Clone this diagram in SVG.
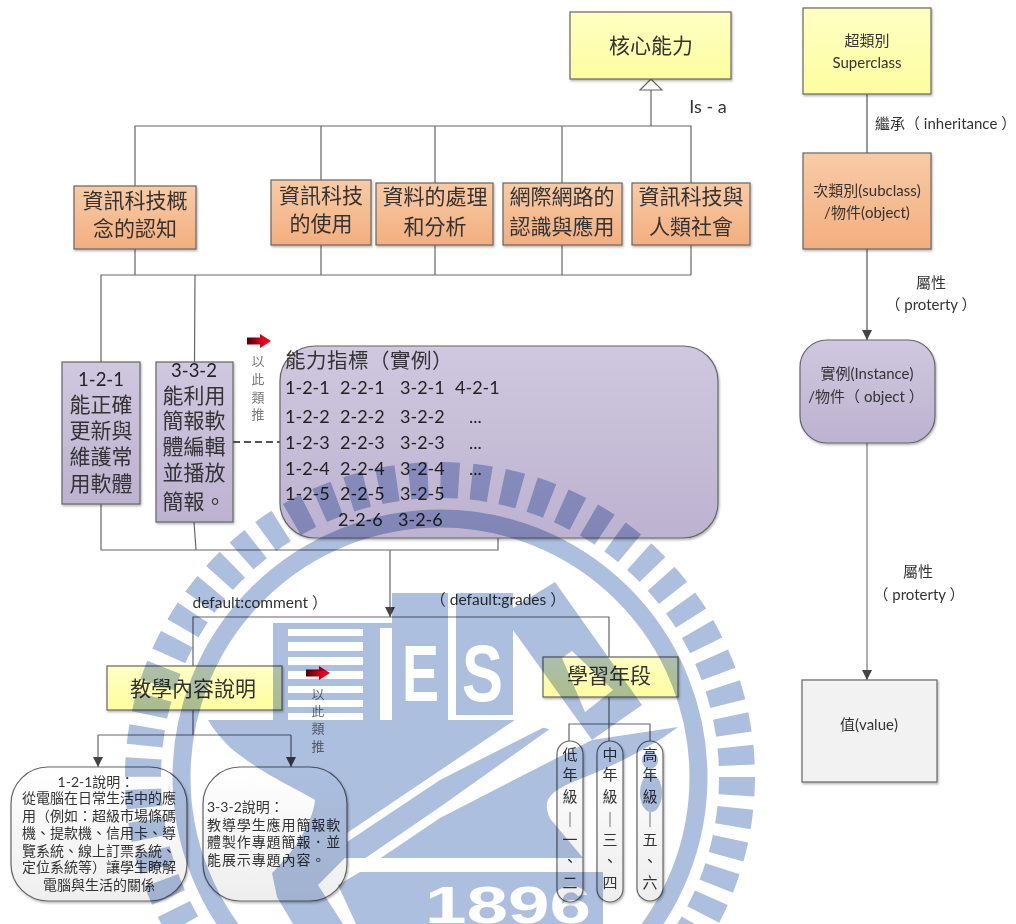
<svg xmlns="http://www.w3.org/2000/svg" width="1016" height="924" viewBox="0 0 1016 924">
<style>
text{font-family:"Lato","Noto Sans CJK TC",sans-serif;fill:#333;text-anchor:middle;dominant-baseline:central}
.s{text-anchor:start}
.n{stroke:#666;stroke-width:1.2;filter:url(#sh)}
.y{fill:url(#gy)}.o{fill:url(#go)}.p{fill:url(#gp)}.g{fill:url(#gg)}
.c{fill:none;stroke:#666;stroke-width:1.2}
.f14{font-size:14px;transform:translateY(-1px)}.f15{font-size:15px;transform:translateY(-1px)}.f16{font-size:15.500px}.f18{font-size:18px;fill:#222;transform:translateY(-1px)}.f21{font-size:21px;transform:translateY(-2px)}
.f19{font-size:18.500px;fill:#222;transform:translateY(-2px)}
.t{font-size:13px;fill:#777;transform:translateY(-1px)}
.wb{fill:#adbfdf}.ww{fill:#fff}
.wt{font-family:"Liberation Sans",sans-serif;font-weight:bold;fill:#fff;text-anchor:start;dominant-baseline:alphabetic}
</style>
<defs>
<linearGradient id="gy" x1="0" y1="0" x2="0" y2="1"><stop offset="0" stop-color="#ffffc4"/><stop offset="1" stop-color="#fdfd9f"/></linearGradient>
<linearGradient id="go" x1="0" y1="0" x2="0" y2="1"><stop offset="0" stop-color="#f8cba6"/><stop offset="1" stop-color="#f3ae7e"/></linearGradient>
<linearGradient id="gp" x1="0" y1="0" x2="0" y2="1"><stop offset="0" stop-color="#cfc8df"/><stop offset="1" stop-color="#bdb2d0"/></linearGradient>
<linearGradient id="gg" x1="0" y1="0" x2="0" y2="1"><stop offset="0" stop-color="#fff"/><stop offset="1" stop-color="#eee"/></linearGradient>
<linearGradient id="gr" x1="0" y1="0" x2="1" y2="0"><stop offset="0" stop-color="#4a0008"/><stop offset=".7" stop-color="#f00018"/></linearGradient>
<filter id="sh" x="-10%" y="-10%" width="125%" height="125%"><feDropShadow dx="1" dy="1.5" stdDeviation="1.2" flood-color="#000" flood-opacity=".3"/></filter>
<marker id="a" markerWidth="11" markerHeight="11" refX="10" refY="5" orient="auto" markerUnits="userSpaceOnUse"><path d="M0,0 L10,5 L0,10 Z" fill="#444"/></marker>
<path id="ra" d="M0,3.500 H13 V0 L24,7 L13,14 V10.500 H0 Z" fill="url(#gr)"/>
</defs>
<rect width="1016" height="924" fill="#fff"/>

<g id="connectors">
<path class="c" d="M135,186 V126 H691 V183 M321,126 V180 M435,126 V183 M562,126 V183 M651,126 V90 M651,79 V72"/>
<path d="M651,79 L640,90 H662 Z" fill="#fff" stroke="#666" stroke-width="1.2"/>
<path class="c" d="M135,249 V275 M321,245 V275 M435,245 V275 M562,245 V275 M691,245 V275 M101,362 V275 H691 M195,275 L194.500,362"/>
<path class="c" d="M101,504 V550 H498 V538 M194,522 L196,550"/>
<path class="c" d="M390,550 V617" marker-end="url(#a)"/>
<path class="c" d="M193,666 V617 H609 V657"/>
<path class="c" d="M193,710 V735 M98,735 H291"/>
<path class="c" d="M98,735 V767" marker-end="url(#a)"/>
<path class="c" d="M291,735 V767" marker-end="url(#a)"/>
<path class="c" d="M609,697 V741 M569,741 V724 H650 V741"/>
<path d="M233,442 H280" fill="none" stroke="#555" stroke-width="2" stroke-dasharray="7 4"/>
<path d="M867,94 V153" fill="none" stroke="#777" stroke-width="1.5"/>
<path d="M867,249 V340" fill="none" stroke="#777" stroke-width="1.5" marker-end="url(#a)"/>
<path d="M867,443 V680" fill="none" stroke="#777" stroke-width="1.2" marker-end="url(#a)"/>
</g>

<g id="core"><rect class="n y" x="570" y="12" width="161" height="67"/><text class="f21" x="651" y="46">核心能力</text></g>
<text x="708" y="106" style="font-size:18px">Is - a</text>
<g id="c1"><rect class="n o" x="74" y="186" width="122" height="63"/><text class="f21" x="135" y="201">資訊科技概</text><text class="f21" x="135" y="229">念的認知</text></g>
<g id="c2"><rect class="n o" x="271" y="180" width="100" height="65"/><text class="f21" x="321" y="196">資訊科技</text><text class="f21" x="321" y="224">的使用</text></g>
<g id="c3"><rect class="n o" x="376" y="183" width="117" height="62"/><text class="f21" x="435" y="197">資料的處理</text><text class="f21" x="435" y="227">和分析</text></g>
<g id="c4"><rect class="n o" x="503" y="183" width="119" height="62"/><text class="f21" x="562" y="197">網際網路的</text><text class="f21" x="562" y="227">認識與應用</text></g>
<g id="c5"><rect class="n o" x="632" y="183" width="118" height="62"/><text class="f21" x="691" y="197">資訊科技與</text><text class="f21" x="691" y="227">人類社會</text></g>

<g id="i121"><rect class="n p" x="62" y="362" width="78" height="142"/><text class="f19" x="101" y="381">1-2-1</text><text class="f21" x="101" y="405">能正確</text><text class="f21" x="101" y="431">更新與</text><text class="f21" x="101" y="457">維護常</text><text class="f21" x="101" y="484">用軟體</text></g>
<g id="i332"><rect class="n p" x="156" y="362" width="77" height="160"/><text class="f19" x="194" y="372">3-3-2</text><text class="f21" x="194" y="396">能利用</text><text class="f21" x="194" y="421">簡報軟</text><text class="f21" x="194" y="447">體編輯</text><text class="f21" x="194" y="473">並播放</text><text class="f21" x="194" y="502">簡報。</text></g>

<g id="hint1"><use href="#ra" x="247" y="334"/><text class="t" x="258" y="362">以</text><text class="t" x="258" y="380">此</text><text class="t" x="258" y="398">類</text><text class="t" x="258" y="415">推</text></g>

<g id="indicators"><rect class="n p" x="280" y="346" width="438" height="192" rx="35"/>
<text class="s" x="285" y="360" style="font-size:20.500px;letter-spacing:.5px">能力指標（實例）</text>
<text class="s f18" x="285" y="388">1-2-1</text><text class="s f18" x="340" y="388">2-2-1</text><text class="s f18" x="400" y="388">3-2-1</text><text class="s f18" x="455" y="388">4-2-1</text>
<text class="s f18" x="285" y="417">1-2-2</text><text class="s f18" x="340" y="417">2-2-2</text><text class="s f18" x="400" y="417">3-2-2</text><text class="s f18" x="469" y="417">...</text>
<text class="s f18" x="285" y="443">1-2-3</text><text class="s f18" x="340" y="443">2-2-3</text><text class="s f18" x="400" y="443">3-2-3</text><text class="s f18" x="469" y="443">...</text>
<text class="s f18" x="285" y="469">1-2-4</text><text class="s f18" x="340" y="469">2-2-4</text><text class="s f18" x="400" y="469">3-2-4</text><text class="s f18" x="469" y="469">...</text>
<text class="s f18" x="285" y="494">1-2-5</text><text class="s f18" x="340" y="494">2-2-5</text><text class="s f18" x="400" y="494">3-2-5</text>
<text class="s f18" x="338" y="520">2-2-6</text><text class="s f18" x="398" y="520">3-2-6</text>
</g>

<text class="f16" x="260" y="602">default:comment ）</text>
<text class="f16" x="498" y="599">（ default:grades ）</text>

<g id="comment"><rect class="n y" x="107" y="666" width="175" height="44"/><text class="f21" x="193" y="689">教學內容說明</text></g>
<g id="hint2"><use href="#ra" x="306" y="666"/><text class="t" x="318" y="695">以</text><text class="t" x="318" y="712">此</text><text class="t" x="318" y="729">類</text><text class="t" x="318" y="747">推</text></g>
<g id="grades"><rect class="n y" x="543" y="657" width="135" height="40"/><text class="f21" x="609" y="676">學習年段</text></g>

<g id="d121"><rect class="n g" x="11" y="767" width="176" height="134" rx="37"/>
<text class="f14" x="96" y="782">1-2-1說明：</text><text class="f14" x="99" y="798">從電腦在日常生活中的應</text><text class="f14" x="99" y="816">用（例如：超級市場條碼</text><text class="f14" x="99" y="833">機、提款機、信用卡、導</text><text class="f14" x="99" y="851">覽系統、線上訂票系統、</text><text class="f14" x="99" y="867">定位系統等）讓學生瞭解</text><text class="f14" x="99" y="885">電腦與生活的關係</text></g>
<g id="d332"><rect class="n g" x="203" y="767" width="144" height="134" rx="37"/>
<text class="s f14" x="207" y="807">3-3-2說明：</text><text class="s f14" x="207" y="825" style="letter-spacing:.9px">教導學生應用簡報軟</text><text class="s f14" x="207" y="842" style="letter-spacing:.9px">體製作專題簡報．並</text><text class="s f14" x="207" y="860" style="letter-spacing:.9px">能展示專題內容。</text></g>

<g id="low"><rect class="n g" x="557" y="741" width="26" height="161" rx="13"/><text class="f15" x="570 570 570 570 570 570 570" y="755 775 797 820 840 861 883">低年級｜一、二</text></g>
<g id="mid"><rect class="n g" x="597" y="741" width="26" height="161" rx="13"/><text class="f15" x="610 610 610 610 610 610 610" y="755 775 797 820 840 861 883">中年級｜三、四</text></g>
<g id="high"><rect class="n g" x="637" y="741" width="26" height="160" rx="13"/><text class="f15" x="650 650 650 650 650 650 650" y="755 775 797 820 840 861 883">高年級｜五、六</text></g>

<g id="super"><rect class="n y" x="803" y="8" width="128" height="86"/><text class="f15" x="867" y="41">超類別</text><text class="f15" x="867" y="63">Superclass</text></g>
<text class="s f15" x="875" y="124">繼承（ inheritance ）</text>
<g id="sub"><rect class="n o" x="803" y="153" width="128" height="96"/><text class="f15" x="867" y="191">次類別(subclass)</text><text class="f15" x="867" y="213">/物件(object)</text></g>
<text class="f15" x="931" y="283">屬性</text><text class="f15" x="931" y="305">（ proterty ）</text>
<g id="instance"><rect class="n p" x="800" y="340" width="135" height="103" rx="27"/><text class="f15" x="867" y="374">實例(Instance)</text><text class="f15" x="866" y="397">/物件（ object ）</text></g>
<text class="f15" x="918" y="572">屬性</text><text class="f15" x="919" y="595">（ proterty ）</text>
<g id="value"><rect class="n" x="802" y="680" width="135" height="102" fill="#f2f2f2"/><text class="f15" x="869" y="725">值(value)</text></g>

<g id="watermark" style="mix-blend-mode:multiply">
<circle cx="440" cy="777" r="297" fill="none" stroke="#adbfdf" stroke-width="36" stroke-dasharray="18.500 12.600"/>
<circle cx="440" cy="777" r="258.500" fill="none" stroke="#adbfdf" stroke-width="18"/>
<path class="wb" d="M273,623 H392 V593 H448 V720 H273 Z"/>
<rect class="wb" x="456" y="593" width="57" height="122"/>
<path class="ww" d="M288,629H363V636H288ZM288,642H363V651H288ZM288,657H363V665H288ZM288,671H363V679H288ZM288,686H363V693H288ZM288,700H363V707H288ZM288,713H363V720H288Z"/>
<rect class="ww" x="380" y="628" width="12" height="92"/>
<path class="wb" d="M208,720 H513 L592,740 L678,727 C655,745 615,765 590,775 C570,783 550,790 547,803 C546,812 550,820 553,822 L583,858 H603 V924 H293 L277,897 L272,873 C293,853 313,823 315,800 C300,790 267,777 233,750 C222,740 214,730 208,720 Z"/>
<path class="wb" d="M513,608 L555,582 L642,705 L592,740 L513,630 Z"/>
<path class="ww" d="M562,658 L572,651 L613,690 L585,712 Z"/>
<path class="ww" d="M347,833 L515,720 L570,714 L440,780 L347,842 Z"/>
<path class="ww" d="M440,807 L568,716 L592,740 L440,818 L360,872 H345 Z"/>
<path class="ww" d="M345,858 H610 V872 H360 L338,885 L356,924 H343 L318,885 Z"/>
<text class="wt" x="402" y="701" textLength="37" lengthAdjust="spacingAndGlyphs" style="font-size:80px">E</text>
<text class="wt" x="462" y="701" textLength="41" lengthAdjust="spacingAndGlyphs" style="font-size:80px">S</text>
<text class="wt" x="425" y="923" textLength="166" lengthAdjust="spacingAndGlyphs" style="font-size:52px">1896</text>
<ellipse class="wb" cx="650" cy="760" rx="8" ry="9"/>
<ellipse class="wb" cx="651" cy="793" rx="11" ry="19"/>
</g>
</svg>
